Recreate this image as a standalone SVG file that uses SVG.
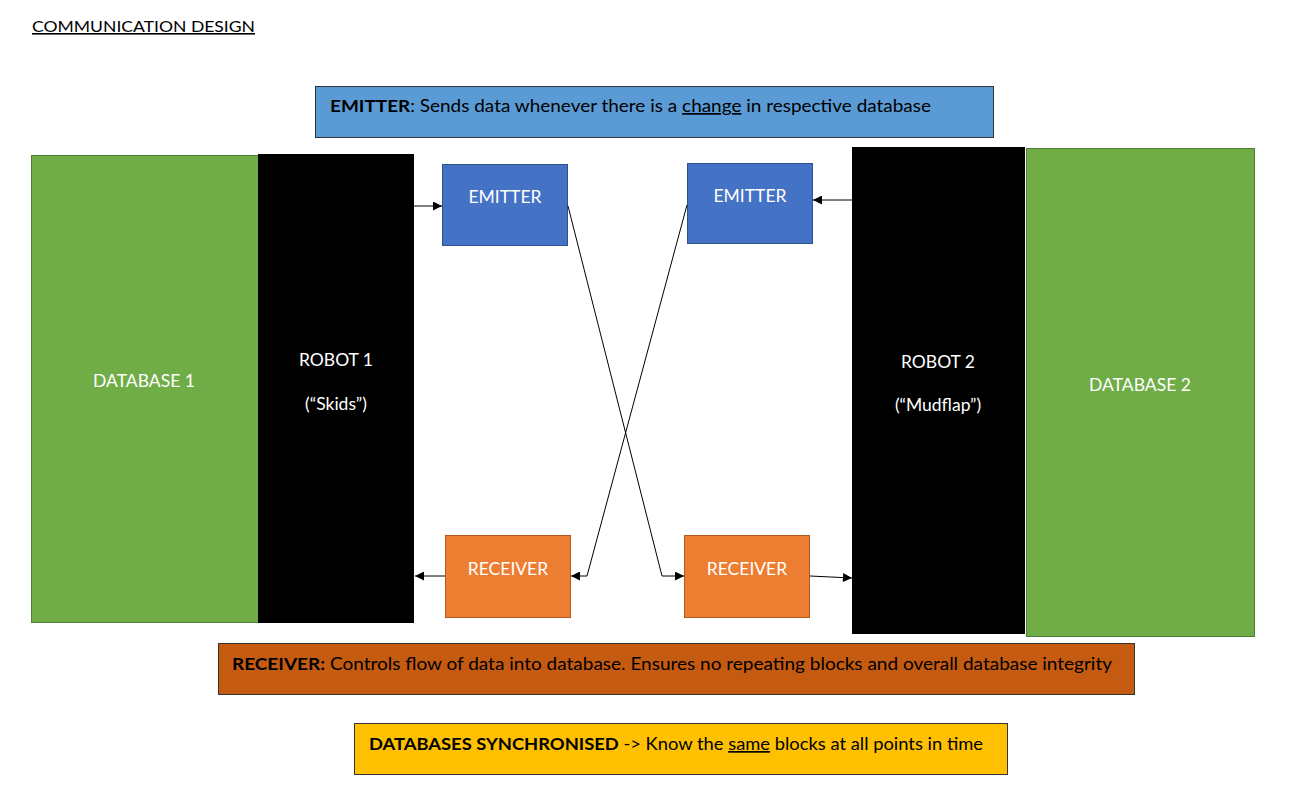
<svg xmlns="http://www.w3.org/2000/svg" width="1292" height="795" viewBox="0 0 1292 795">
<style>
text{font-family:Lato,"Open Sans","Liberation Sans",sans-serif;}
.lbl{fill:#ffffff;font-size:17.5px;text-anchor:middle;}
.info{fill:#000000;font-size:17px;}
.b{font-weight:bold;}
.u{text-decoration:underline;}
.conn{fill:none;stroke:#000000;stroke-width:1;}
</style>
<defs>
<marker id="ah" viewBox="0 0 10 10" refX="10" refY="5" markerWidth="11" markerHeight="9" markerUnits="userSpaceOnUse" orient="auto">
<path d="M0,0 L10,5 L0,10 z" fill="#000000"/>
</marker>
</defs>
<rect width="1292" height="795" fill="#ffffff"/>
<g id="title">
<text x="32" y="32" font-size="16" fill="#000000" text-decoration="underline" textLength="223" lengthAdjust="spacingAndGlyphs">COMMUNICATION DESIGN</text>
</g>
<g id="emitter-info">
<rect x="315.5" y="86.5" width="678" height="51" fill="#5B9BD5" stroke="#333333" stroke-width="1"/>
<text class="info" x="330" y="112" textLength="601" lengthAdjust="spacingAndGlyphs"><tspan class="b">EMITTER</tspan>: Sends data whenever there is a <tspan class="u">change</tspan> in respective database</text>
</g>
<g id="database1">
<rect x="31.5" y="155.5" width="227" height="467" fill="#70AD47" stroke="#507E32" stroke-width="1"/>
<text class="lbl" x="144" y="387">DATABASE 1</text>
</g>
<g id="robot1">
<rect x="258" y="154" width="156" height="469" fill="#000000"/>
<text class="lbl" x="336" y="366">ROBOT 1</text>
<text class="lbl" x="336" y="410">(“Skids”)</text>
</g>
<g id="emitter1">
<rect x="442.5" y="164.5" width="125" height="81" fill="#4472C4" stroke="#2F528F" stroke-width="1"/>
<text class="lbl" x="505" y="203">EMITTER</text>
</g>
<g id="emitter2">
<rect x="687.5" y="163.5" width="125" height="80" fill="#4472C4" stroke="#2F528F" stroke-width="1"/>
<text class="lbl" x="750" y="202">EMITTER</text>
</g>
<g id="robot2">
<rect x="852" y="147" width="173" height="487" fill="#000000"/>
<text class="lbl" x="938" y="368">ROBOT 2</text>
<text class="lbl" x="938" y="411">(“Mudflap”)</text>
</g>
<g id="database2">
<rect x="1026.5" y="148.5" width="228" height="488" fill="#70AD47" stroke="#507E32" stroke-width="1"/>
<text class="lbl" x="1140" y="391">DATABASE 2</text>
</g>
<g id="receiver1">
<rect x="445.5" y="535.5" width="125" height="82" fill="#ED7D31" stroke="#AE5A21" stroke-width="1"/>
<text class="lbl" x="508" y="575">RECEIVER</text>
</g>
<g id="receiver2">
<rect x="684.5" y="535.5" width="125" height="82" fill="#ED7D31" stroke="#AE5A21" stroke-width="1"/>
<text class="lbl" x="747" y="575">RECEIVER</text>
</g>
<g id="receiver-info">
<rect x="218.5" y="643.5" width="916" height="51" fill="#C55A11" stroke="#333333" stroke-width="1"/>
<text class="info" x="232" y="670" textLength="880" lengthAdjust="spacingAndGlyphs"><tspan class="b">RECEIVER:</tspan> Controls flow of data into database. Ensures no repeating blocks and overall database integrity</text>
</g>
<g id="sync-info">
<rect x="354.5" y="723.5" width="653" height="51" fill="#FFC000" stroke="#333333" stroke-width="1"/>
<text class="info" x="369" y="750" textLength="614" lengthAdjust="spacingAndGlyphs"><tspan class="b">DATABASES SYNCHRONISED</tspan> -&gt; Know the <tspan class="u">same</tspan> blocks at all points in time</text>
</g>
<g id="connectors">
<path class="conn" d="M414,206 L442,206" marker-end="url(#ah)"/>
<path class="conn" d="M852,200 L813,200" marker-end="url(#ah)"/>
<path class="conn" d="M568,206 L662,576 L684,576" marker-end="url(#ah)"/>
<path class="conn" d="M687,205 L587,576 L571,576" marker-end="url(#ah)"/>
<path class="conn" d="M445,576 L415,576" marker-end="url(#ah)"/>
<path class="conn" d="M810,576 L852,578" marker-end="url(#ah)"/>
</g>
</svg>
